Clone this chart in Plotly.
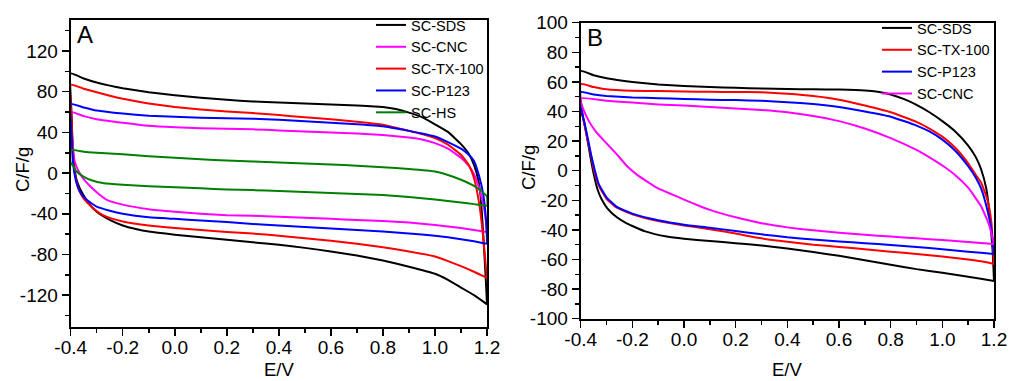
import plotly.graph_objects as go

# ---------------- Panel A data: (E / V, C / F g-1) ----------------
a_sds_up = [(-0.4, 98), (-0.35, 93), (-0.3, 89), (-0.25, 86), (-0.2, 83.5), (-0.1, 79.5), (0.0, 76.5),
            (0.1, 74), (0.2, 72), (0.3, 70.5), (0.4, 69.5), (0.5, 68.5), (0.6, 67.5), (0.7, 66.5),
            (0.8, 65), (0.85, 63), (0.9, 59.5), (0.95, 55), (1.0, 48), (1.05, 40.5), (1.1, 28.5),
            (1.13, 19), (1.15, 8), (1.165, -5), (1.175, -22), (1.185, -58), (1.195, -103), (1.2, -129)]
a_sds_lo = [(-0.4, 98), (-0.397, 60), (-0.393, 30), (-0.387, 8), (-0.378, -6), (-0.365, -15),
            (-0.35, -22), (-0.33, -30), (-0.3, -38), (-0.25, -46), (-0.2, -51.5), (-0.15, -55),
            (-0.1, -57.5), (0.0, -60.5), (0.1, -63), (0.2, -65.5), (0.3, -68), (0.4, -70.5),
            (0.5, -73.5), (0.6, -77), (0.7, -81), (0.8, -86), (0.9, -92), (1.0, -99), (1.05, -105),
            (1.1, -112.5), (1.15, -120), (1.2, -129)]

a_cnc_up = [(-0.4, 60), (-0.35, 56), (-0.3, 53), (-0.2, 49.5), (-0.1, 46.5), (0.0, 45), (0.1, 44),
            (0.2, 43.5), (0.3, 43), (0.4, 42), (0.5, 41), (0.6, 40), (0.7, 39), (0.8, 37.5), (0.9, 35),
            (0.95, 33), (1.0, 29.5), (1.05, 24), (1.1, 15), (1.13, 7), (1.15, -1), (1.17, -15),
            (1.185, -30), (1.195, -45), (1.2, -58)]
a_cnc_lo = [(-0.4, 60), (-0.396, 40), (-0.39, 22), (-0.385, 12), (-0.37, 2), (-0.35, -6),
            (-0.323, -13.4), (-0.29, -21), (-0.259, -26.5), (-0.2, -31), (-0.1, -35.5), (0.0, -38),
            (0.1, -40), (0.2, -41.5), (0.3, -42), (0.4, -43), (0.5, -44), (0.6, -45), (0.7, -46),
            (0.8, -47), (0.9, -48.5), (1.0, -51), (1.05, -52.5), (1.1, -54), (1.15, -56), (1.2, -58)]

a_tx_up = [(-0.4, 87), (-0.35, 83), (-0.3, 79.5), (-0.25, 76), (-0.2, 73), (-0.1, 68.5), (0.0, 65),
           (0.1, 62.5), (0.2, 60.5), (0.3, 59), (0.4, 57), (0.5, 55), (0.6, 53), (0.7, 50.5),
           (0.8, 47.5), (0.9, 41.5), (0.95, 38.5), (1.0, 34.5), (1.05, 28), (1.1, 18), (1.13, 8),
           (1.15, -5), (1.17, -30), (1.185, -62), (1.195, -90), (1.2, -103)]
a_tx_lo = [(-0.4, 87), (-0.397, 55), (-0.393, 25), (-0.387, 5), (-0.378, -8), (-0.368, -17),
           (-0.35, -25), (-0.32, -33), (-0.285, -40), (-0.25, -44), (-0.2, -47.5), (-0.1, -51.5),
           (0.0, -54), (0.1, -56), (0.2, -58), (0.3, -59.5), (0.4, -61.5), (0.5, -64), (0.6, -66.5),
           (0.7, -69.5), (0.8, -73), (0.9, -77), (1.0, -82), (1.05, -86.5), (1.1, -91.5),
           (1.15, -97), (1.2, -103)]

a_p123_up = [(-0.4, 68), (-0.35, 64.5), (-0.3, 61.5), (-0.2, 58.5), (-0.1, 56.5), (0.0, 55.5),
             (0.1, 54.5), (0.2, 54), (0.3, 53.5), (0.4, 52.5), (0.5, 51), (0.6, 49.5), (0.7, 48),
             (0.8, 46), (0.9, 41.5), (0.95, 39), (1.0, 36), (1.05, 30.5), (1.1, 24), (1.13, 18),
             (1.15, 12), (1.17, -3), (1.185, -20), (1.195, -42), (1.2, -69)]
a_p123_lo = [(-0.4, 68), (-0.397, 40), (-0.393, 18), (-0.387, 2), (-0.375, -12), (-0.36, -20),
             (-0.34, -26), (-0.3, -33), (-0.25, -37), (-0.2, -40), (-0.1, -43.5), (0.0, -45),
             (0.1, -46.5), (0.2, -48), (0.3, -50), (0.4, -51.5), (0.5, -53), (0.6, -54.5),
             (0.7, -56), (0.8, -57.5), (0.9, -59.5), (1.0, -61.5), (1.05, -63), (1.1, -65),
             (1.15, -67), (1.2, -69.5)]

a_hs_up = [(-0.4, 22.6), (-0.35, 21), (-0.3, 20), (-0.2, 18.5), (-0.1, 16.5), (0.0, 15), (0.1, 13.5),
           (0.2, 12.5), (0.3, 11.5), (0.4, 10.5), (0.5, 9.5), (0.6, 8.5), (0.7, 7.2), (0.8, 5.8),
           (0.9, 4), (1.0, 1.5), (1.05, -1.8), (1.1, -6.5), (1.15, -12.5), (1.18, -18), (1.2, -23)]
a_hs_lo = [(-0.4, 22.6), (-0.4, 10), (-0.39, 7), (-0.382, 3), (-0.37, 0), (-0.349, -3.6),
           (-0.32, -7), (-0.272, -10), (-0.2, -11.5), (-0.1, -13), (0.0, -14), (0.1, -15),
           (0.2, -16), (0.3, -16.7), (0.4, -17.5), (0.5, -18.5), (0.6, -19.5), (0.7, -20.5),
           (0.8, -21.5), (0.9, -23.5), (1.0, -26), (1.1, -29), (1.15, -30.5), (1.2, -32)]

# ---------------- Panel B data ----------------
b_sds_up = [(-0.4, 67.4), (-0.35, 64.5), (-0.3, 62.5), (-0.2, 60), (-0.1, 58.3), (0.0, 57.3),
            (0.1, 56.5), (0.2, 56), (0.3, 55.5), (0.4, 55.2), (0.5, 55), (0.6, 54.8), (0.7, 54.2),
            (0.75, 53.3), (0.8, 51.5), (0.85, 48.5), (0.9, 44.5), (0.95, 39.5), (1.0, 33.5),
            (1.05, 26.5), (1.1, 17), (1.13, 9), (1.15, 1), (1.17, -12), (1.185, -33), (1.195, -55),
            (1.2, -74.5)]
b_sds_lo = [(-0.4, 67.4), (-0.4, 42), (-0.387, 33), (-0.375, 22), (-0.361, 8), (-0.35, -2),
            (-0.336, -12), (-0.32, -19), (-0.297, -25.4), (-0.26, -31.5), (-0.222, -35.6),
            (-0.15, -41), (-0.067, -44.5), (0.0, -46), (0.1, -47.5), (0.2, -49), (0.3, -50.5),
            (0.4, -52.5), (0.5, -55), (0.6, -57.5), (0.7, -60.5), (0.8, -63.5), (0.9, -66.5),
            (1.0, -69), (1.1, -71.7), (1.2, -74.5)]

b_tx_up = [(-0.4, 58.6), (-0.35, 56.5), (-0.3, 55), (-0.2, 54), (-0.1, 53.8), (0.0, 53.5),
           (0.1, 53.3), (0.2, 53.2), (0.3, 53), (0.4, 52), (0.5, 50.5), (0.6, 48), (0.7, 44),
           (0.8, 39.5), (0.9, 33), (0.95, 28.5), (1.0, 23), (1.05, 15.5), (1.1, 5), (1.13, -3),
           (1.15, -8), (1.175, -20), (1.19, -35), (1.2, -63)]
b_tx_lo = [(-0.4, 58.6), (-0.4, 45), (-0.39, 35), (-0.375, 22), (-0.36, 10), (-0.348, 0),
           (-0.33, -10), (-0.3, -19), (-0.26, -25), (-0.2, -29.5), (-0.1, -34), (0.0, -37),
           (0.1, -39.5), (0.2, -42.5), (0.3, -45.7), (0.4, -48), (0.5, -50), (0.6, -51.5),
           (0.7, -53), (0.8, -54.7), (0.9, -56.3), (1.0, -58), (1.1, -60), (1.15, -61.2), (1.2, -63)]

b_p123_up = [(-0.4, 53.2), (-0.35, 51.5), (-0.3, 50.5), (-0.2, 49.5), (-0.1, 49), (0.0, 48.5),
             (0.1, 48), (0.2, 47.7), (0.3, 47.2), (0.4, 46.3), (0.5, 45), (0.6, 43), (0.7, 40),
             (0.8, 36.5), (0.9, 30.5), (0.95, 26.5), (1.0, 21), (1.05, 13.5), (1.1, 3), (1.13, -5),
             (1.15, -12), (1.175, -27), (1.19, -40), (1.2, -56.3)]
b_p123_lo = [(-0.4, 53.2), (-0.4, 45), (-0.39, 36), (-0.375, 24), (-0.36, 11), (-0.345, 0),
             (-0.33, -9), (-0.3, -18), (-0.26, -24.5), (-0.2, -29), (-0.1, -33.5), (0.0, -36.5),
             (0.1, -38.5), (0.2, -40.8), (0.3, -43), (0.4, -45), (0.5, -46.5), (0.6, -47.8),
             (0.7, -49), (0.8, -50.2), (0.9, -51.5), (1.0, -53), (1.1, -54.7), (1.2, -56.3)]

b_cnc_up = [(-0.4, 49), (-0.3, 47.3), (-0.2, 46), (-0.1, 44.8), (0.0, 44), (0.1, 43), (0.2, 42),
            (0.3, 41), (0.4, 39.5), (0.5, 37), (0.6, 33.5), (0.7, 28.5), (0.8, 22), (0.9, 14),
            (0.95, 9), (1.0, 3.5), (1.05, -3), (1.1, -11.5), (1.15, -24), (1.18, -36), (1.2, -49.5)]
b_cnc_lo = [(-0.4, 49), (-0.395, 44), (-0.385, 39.5), (-0.37, 34), (-0.34, 26), (-0.3, 18.5),
            (-0.26, 11), (-0.22, 3), (-0.18, -3), (-0.1, -12), (0.0, -19.5), (0.062, -24),
            (0.1, -26.5), (0.2, -31.5), (0.3, -35.5), (0.4, -38.3), (0.5, -40.3), (0.6, -41.9),
            (0.7, -43.3), (0.8, -44.5), (0.9, -45.7), (1.0, -46.8), (1.1, -48.2), (1.2, -49.5)]

# ---------------- ticks / labels ----------------
x_ticks = [-0.4, -0.2, 0.0, 0.2, 0.4, 0.6, 0.8, 1.0, 1.2]
x_labels = ["-0.4", "-0.2", "0.0", "0.2", "0.4", "0.6", "0.8", "1.0", "1.2"]
ya_ticks = [-120, -80, -40, 0, 40, 80, 120]
ya_labels = ["-120", "-80", "-40", "0", "40", "80", "120"]
yb_ticks = [-100, -80, -60, -40, -20, 0, 20, 40, 60, 80, 100]
yb_labels = ["-100", "-80", "-60", "-40", "-20", "0", "20", "40", "60", "80", "100"]

panel_a = [("SC-SDS", "#000000", a_sds_up, a_sds_lo),
           ("SC-CNC", "#FF00FF", a_cnc_up, a_cnc_lo),
           ("SC-TX-100", "#FF0000", a_tx_up, a_tx_lo),
           ("SC-P123", "#0000FF", a_p123_up, a_p123_lo),
           ("SC-HS", "#008000", a_hs_up, a_hs_lo)]
panel_b = [("SC-SDS", "#000000", b_sds_up, b_sds_lo),
           ("SC-TX-100", "#FF0000", b_tx_up, b_tx_lo),
           ("SC-P123", "#0000FF", b_p123_up, b_p123_lo),
           ("SC-CNC", "#FF00FF", b_cnc_up, b_cnc_lo)]

FONT = "Liberation Sans, Arial, sans-serif"
FW, FH = 1009, 381


def px(x):
    return x / FW


def py(y):
    return 1 - y / FH


def loop(up, lo):
    xs = [p[0] for p in up] + [p[0] for p in reversed(lo)]
    ys = [p[1] for p in up] + [p[1] for p in reversed(lo)]
    return xs, ys


fig = go.Figure()
for name, color, up, lo in panel_a:
    x, y = loop(up, lo)
    fig.add_trace(go.Scatter(x=x, y=y, mode="lines", name=name,
                             line=dict(color=color, width=2, shape="spline", smoothing=0.4),
                             xaxis="x", yaxis="y", legend="legend"))
for name, color, up, lo in panel_b:
    x, y = loop(up, lo)
    fig.add_trace(go.Scatter(x=x, y=y, mode="lines", name=name,
                             line=dict(color=color, width=2, shape="spline", smoothing=0.4),
                             xaxis="x2", yaxis="y2", legend="legend2"))

common = dict(showline=True, linecolor="black", linewidth=2, mirror=True, ticks="outside",
              ticklen=7, tickwidth=1.5, tickcolor="black", showgrid=False, zeroline=False,
              automargin=False, tickfont=dict(family=FONT, size=19, color="black"))
xminor = dict(tick0=-0.4, dtick=0.1, ticks="outside", ticklen=4, tickwidth=1.5, tickcolor="black")

fig.update_layout(
    template="none",
    width=FW, height=FH, autosize=False,
    margin=dict(l=0, r=0, t=0, b=0, pad=0),
    paper_bgcolor="white", plot_bgcolor="white",
    hovermode=False,
    xaxis=dict(domain=[px(70.7), px(487)], range=[-0.4, 1.2], anchor="y", tickmode="array",
               tickvals=x_ticks, ticktext=x_labels, minor=xminor, ticklabelstandoff=-5, **common),
    yaxis=dict(domain=[py(326.7), py(19.5)], range=[-151, 151], anchor="x", tickmode="array",
               tickvals=ya_ticks, ticktext=ya_labels,
               minor=dict(tick0=0, dtick=20, ticks="outside", ticklen=4, tickwidth=1.5, tickcolor="black"),
               **common),
    xaxis2=dict(domain=[px(580.7), px(994)], range=[-0.4, 1.2], anchor="y2", tickmode="array",
                tickvals=x_ticks, ticktext=x_labels, minor=xminor, ticklabelstandoff=-5, **common),
    yaxis2=dict(domain=[py(318.7), py(22.7)], range=[-100, 100], anchor="x2", tickmode="array",
                tickvals=yb_ticks, ticktext=yb_labels,
                minor=dict(tick0=0, dtick=10, ticks="outside", ticklen=4, tickwidth=1.5, tickcolor="black"),
                **common),
    legend=dict(x=px(371), y=py(9), xanchor="left", yanchor="top", bgcolor="rgba(0,0,0,0)",
                font=dict(family=FONT, size=14.5, color="black"), tracegroupgap=0, itemwidth=30,
                borderwidth=0),
    legend2=dict(x=px(877), y=py(12), xanchor="left", yanchor="top", bgcolor="rgba(0,0,0,0)",
                 font=dict(family=FONT, size=14.5, color="black"), tracegroupgap=0, itemwidth=30,
                 borderwidth=0),
    showlegend=True,
)

ann_font = dict(family=FONT, size=18.5, color="black")
fig.add_annotation(text="A", x=px(75), y=py(35), xref="paper", yref="paper", xanchor="left",
                   yanchor="middle", showarrow=False, font=dict(family=FONT, size=24, color="black"))
fig.add_annotation(text="B", x=px(585), y=py(37.5), xref="paper", yref="paper", xanchor="left",
                   yanchor="middle", showarrow=False, font=dict(family=FONT, size=24, color="black"))
fig.add_annotation(text="C/F/g", x=px(22), y=py(170), xref="paper", yref="paper", textangle=-90,
                   xanchor="center", yanchor="middle", showarrow=False, font=ann_font)
fig.add_annotation(text="C/F/g", x=px(528), y=py(168), xref="paper", yref="paper", textangle=-90,
                   xanchor="center", yanchor="middle", showarrow=False, font=ann_font)
fig.add_annotation(text="E/V", x=px(279), y=py(369), xref="paper", yref="paper",
                   xanchor="center", yanchor="middle", showarrow=False, font=ann_font)
fig.add_annotation(text="E/V", x=px(787), y=py(369), xref="paper", yref="paper",
                   xanchor="center", yanchor="middle", showarrow=False, font=ann_font)

fig.write_html("out.html", config={"displayModeBar": False, "staticPlot": True},
               post_script="document.body.style.margin='0';document.body.style.overflow='hidden';")
